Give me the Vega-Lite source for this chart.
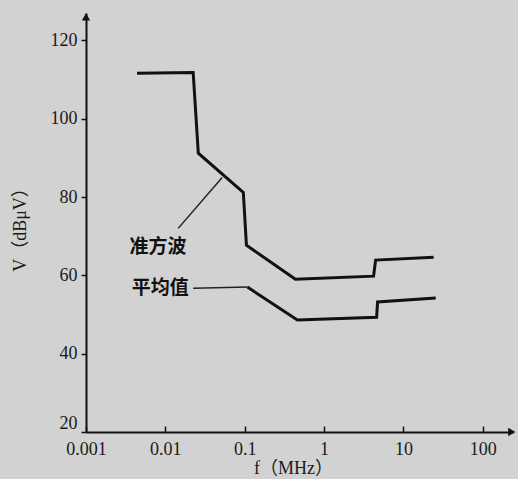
{
  "$schema": "https://vega.github.io/schema/vega-lite/v6.json",
  "width": 427,
  "height": 419,
  "autosize": {"type": "none"},
  "padding": {"left": 86, "top": 13, "right": 5, "bottom": 47},
  "background": "#d2d2d2",
  "config": {"view": {"stroke": null}, "axis": {"grid": false}},
  "datasets": {
    "curves": [
      {"series": "准方波", "i": 1, "f": 0.0044, "v": 111.6},
      {"series": "准方波", "i": 2, "f": 0.0224, "v": 111.8},
      {"series": "准方波", "i": 3, "f": 0.026, "v": 91.2},
      {"series": "准方波", "i": 4, "f": 0.096, "v": 81.2},
      {"series": "准方波", "i": 5, "f": 0.105, "v": 67.7},
      {"series": "准方波", "i": 6, "f": 0.435, "v": 59.0},
      {"series": "准方波", "i": 7, "f": 4.2, "v": 59.8},
      {"series": "准方波", "i": 8, "f": 4.46, "v": 63.9},
      {"series": "准方波", "i": 9, "f": 24, "v": 64.6},
      {"series": "平均值", "i": 1, "f": 0.108, "v": 57.0},
      {"series": "平均值", "i": 2, "f": 0.461, "v": 48.6},
      {"series": "平均值", "i": 3, "f": 4.59, "v": 49.3},
      {"series": "平均值", "i": 4, "f": 4.72, "v": 53.2},
      {"series": "平均值", "i": 5, "f": 25.5, "v": 54.2}
    ],
    "leaders": [
      {"series": "准方波", "i": 1, "f": 0.0145, "v": 72.0},
      {"series": "准方波", "i": 2, "f": 0.052, "v": 85.0},
      {"series": "平均值", "i": 1, "f": 0.0224, "v": 56.7},
      {"series": "平均值", "i": 2, "f": 0.108, "v": 57.0}
    ],
    "labels": [
      {"label": "准方波", "f": 0.0081, "v": 67.2},
      {"label": "平均值", "f": 0.0086, "v": 56.7}
    ],
    "yArrow": [{"f": 0.001, "v": 126}],
    "xArrow": [{"f": 232, "v": 20}]
  },
  "encoding": {
    "x": {
      "field": "f",
      "type": "quantitative",
      "scale": {"type": "log", "domain": [0.001, 240], "nice": false},
      "axis": {
        "values": [0.001, 0.01, 0.1, 1, 10, 100],
        "labelExpr": "format(datum.value, '~g')",
        "labelFont": "Liberation Serif",
        "labelFontSize": 18,
        "labelColor": "#1a1a1a",
        "labelPadding": 14,
        "labelFlush": false,
        "tickSize": -6,
        "tickColor": "#111",
        "tickWidth": 1.5,
        "domainColor": "#111",
        "domainWidth": 2,
        "title": "f（MHz）",
        "titleFont": "Liberation Serif, Noto Sans CJK SC",
        "titleFontSize": 18,
        "titleFontWeight": "normal",
        "titleColor": "#1a1a1a",
        "titleX": 207,
        "titleY": 36,
        "titleAlign": "center",
        "titleBaseline": "middle"
      }
    },
    "y": {
      "field": "v",
      "type": "quantitative",
      "scale": {"domain": [20, 127], "nice": false, "zero": false},
      "axis": {
        "values": [20, 40, 60, 80, 100, 120],
        "labelFont": "Liberation Serif",
        "labelFontSize": 18,
        "labelColor": "#1a1a1a",
        "labelPadding": 4,
        "labelFlush": false,
        "labelBaseline": {"condition": {"test": "datum.value == 20", "value": "bottom"}, "value": "middle"},
        "tickSize": 5,
        "tickColor": "#111",
        "tickWidth": 1.5,
        "domainColor": "#111",
        "domainWidth": 2,
        "title": "V（dBμV）",
        "titleFont": "Liberation Serif, Noto Sans CJK SC",
        "titleFontSize": 18,
        "titleFontWeight": "normal",
        "titleColor": "#1a1a1a",
        "titleX": -66,
        "titleY": 212,
        "titleAlign": "center",
        "titleBaseline": "middle"
      }
    }
  },
  "layer": [
    {
      "data": {"name": "curves"},
      "mark": {"type": "line", "color": "#111", "strokeWidth": 3, "strokeJoin": "miter"},
      "encoding": {"detail": {"field": "series"}, "order": {"field": "i", "type": "quantitative"}}
    },
    {
      "data": {"name": "leaders"},
      "mark": {"type": "line", "color": "#222", "strokeWidth": 1.5},
      "encoding": {"detail": {"field": "series"}, "order": {"field": "i", "type": "quantitative"}}
    },
    {
      "data": {"name": "labels"},
      "mark": {"type": "text", "font": "Noto Sans CJK SC", "fontSize": 19, "fontWeight": "bold", "color": "#111"},
      "encoding": {"text": {"field": "label"}}
    },
    {
      "data": {"name": "yArrow"},
      "mark": {"type": "point", "shape": "triangle-up", "filled": true, "color": "#111", "size": 70, "opacity": 1}
    },
    {
      "data": {"name": "xArrow"},
      "mark": {"type": "point", "shape": "triangle-right", "filled": true, "color": "#111", "size": 70, "opacity": 1}
    }
  ]
}
